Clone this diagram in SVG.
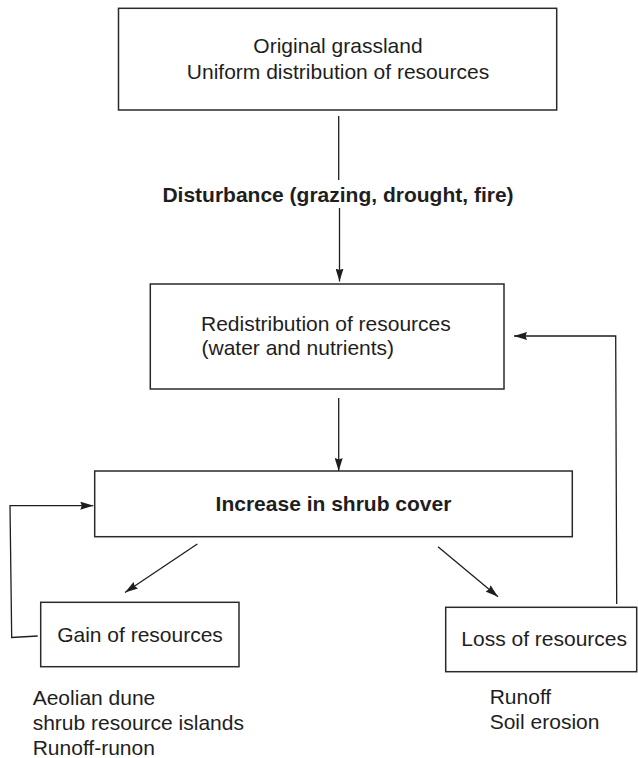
<svg xmlns="http://www.w3.org/2000/svg" width="638" height="758" viewBox="0 0 638 758">
<style>
.box{fill:#fff;stroke:#2a2a2a;stroke-width:1.5}
.t{font-family:"Liberation Sans",Arial,sans-serif;font-size:21px;fill:#1e1e1e}
.b{font-weight:bold}
.c{text-anchor:middle}
.ln{fill:none;stroke:#1e1e1e;stroke-width:1.3}
</style>
<defs>
<marker id="ah" markerWidth="13" markerHeight="8" refX="13" refY="4" orient="auto" markerUnits="userSpaceOnUse">
<path d="M0,0 L13,4 L0,8 L1.5,4 z" fill="#1e1e1e"/>
</marker>
</defs>
<rect width="638" height="758" fill="#fff"/>
<g id="connectors">
<line class="ln" x1="338.7" y1="116" x2="338.7" y2="180"/>
<line class="ln" x1="339.5" y1="208" x2="339.5" y2="281.5" marker-end="url(#ah)"/>
<line class="ln" x1="338.7" y1="398" x2="338.7" y2="471" marker-end="url(#ah)"/>
<line class="ln" x1="197.3" y1="544" x2="125" y2="592.5" marker-end="url(#ah)"/>
<line class="ln" x1="438" y1="546.7" x2="498" y2="596.7" marker-end="url(#ah)"/>
<polyline class="ln" points="37.7,636 11.7,637.5 10,505.7 93.3,505.7" marker-end="url(#ah)"/>
<polyline class="ln" points="616.7,604 615.7,336 514,336" marker-end="url(#ah)"/>
</g>
<g id="original">
<rect class="box" x="118.5" y="8.3" width="438.2" height="101.7"/>
<text class="t c" x="338" y="53.3">Original grassland</text>
<text class="t c" x="338" y="79">Uniform distribution of resources</text>
</g>
<g id="disturbance">
<text class="t b c" x="338" y="201.7">Disturbance (grazing, drought, fire)</text>
</g>
<g id="redistribution">
<rect class="box" x="150.3" y="284" width="353.7" height="105"/>
<text class="t" x="201" y="331">Redistribution of resources</text>
<text class="t" x="201.5" y="355">(water and nutrients)</text>
</g>
<g id="increase">
<rect class="box" x="94.7" y="471" width="477.6" height="65.7"/>
<text class="t b c" x="333.5" y="510.7">Increase in shrub cover</text>
</g>
<g id="gain">
<rect class="box" x="40.7" y="602.3" width="198.3" height="64.4"/>
<text class="t c" x="140" y="641.7">Gain of resources</text>
<text class="t" x="32.7" y="705">Aeolian dune</text>
<text class="t" x="32.7" y="730">shrub resource islands</text>
<text class="t" x="32.7" y="755">Runoff-runon</text>
</g>
<g id="loss">
<rect class="box" x="445.7" y="607.3" width="191" height="64.4"/>
<text class="t" x="461.3" y="646">Loss of resources</text>
<text class="t" x="489.7" y="704.3">Runoff</text>
<text class="t" x="489.7" y="729.3">Soil erosion</text>
</g>
</svg>
